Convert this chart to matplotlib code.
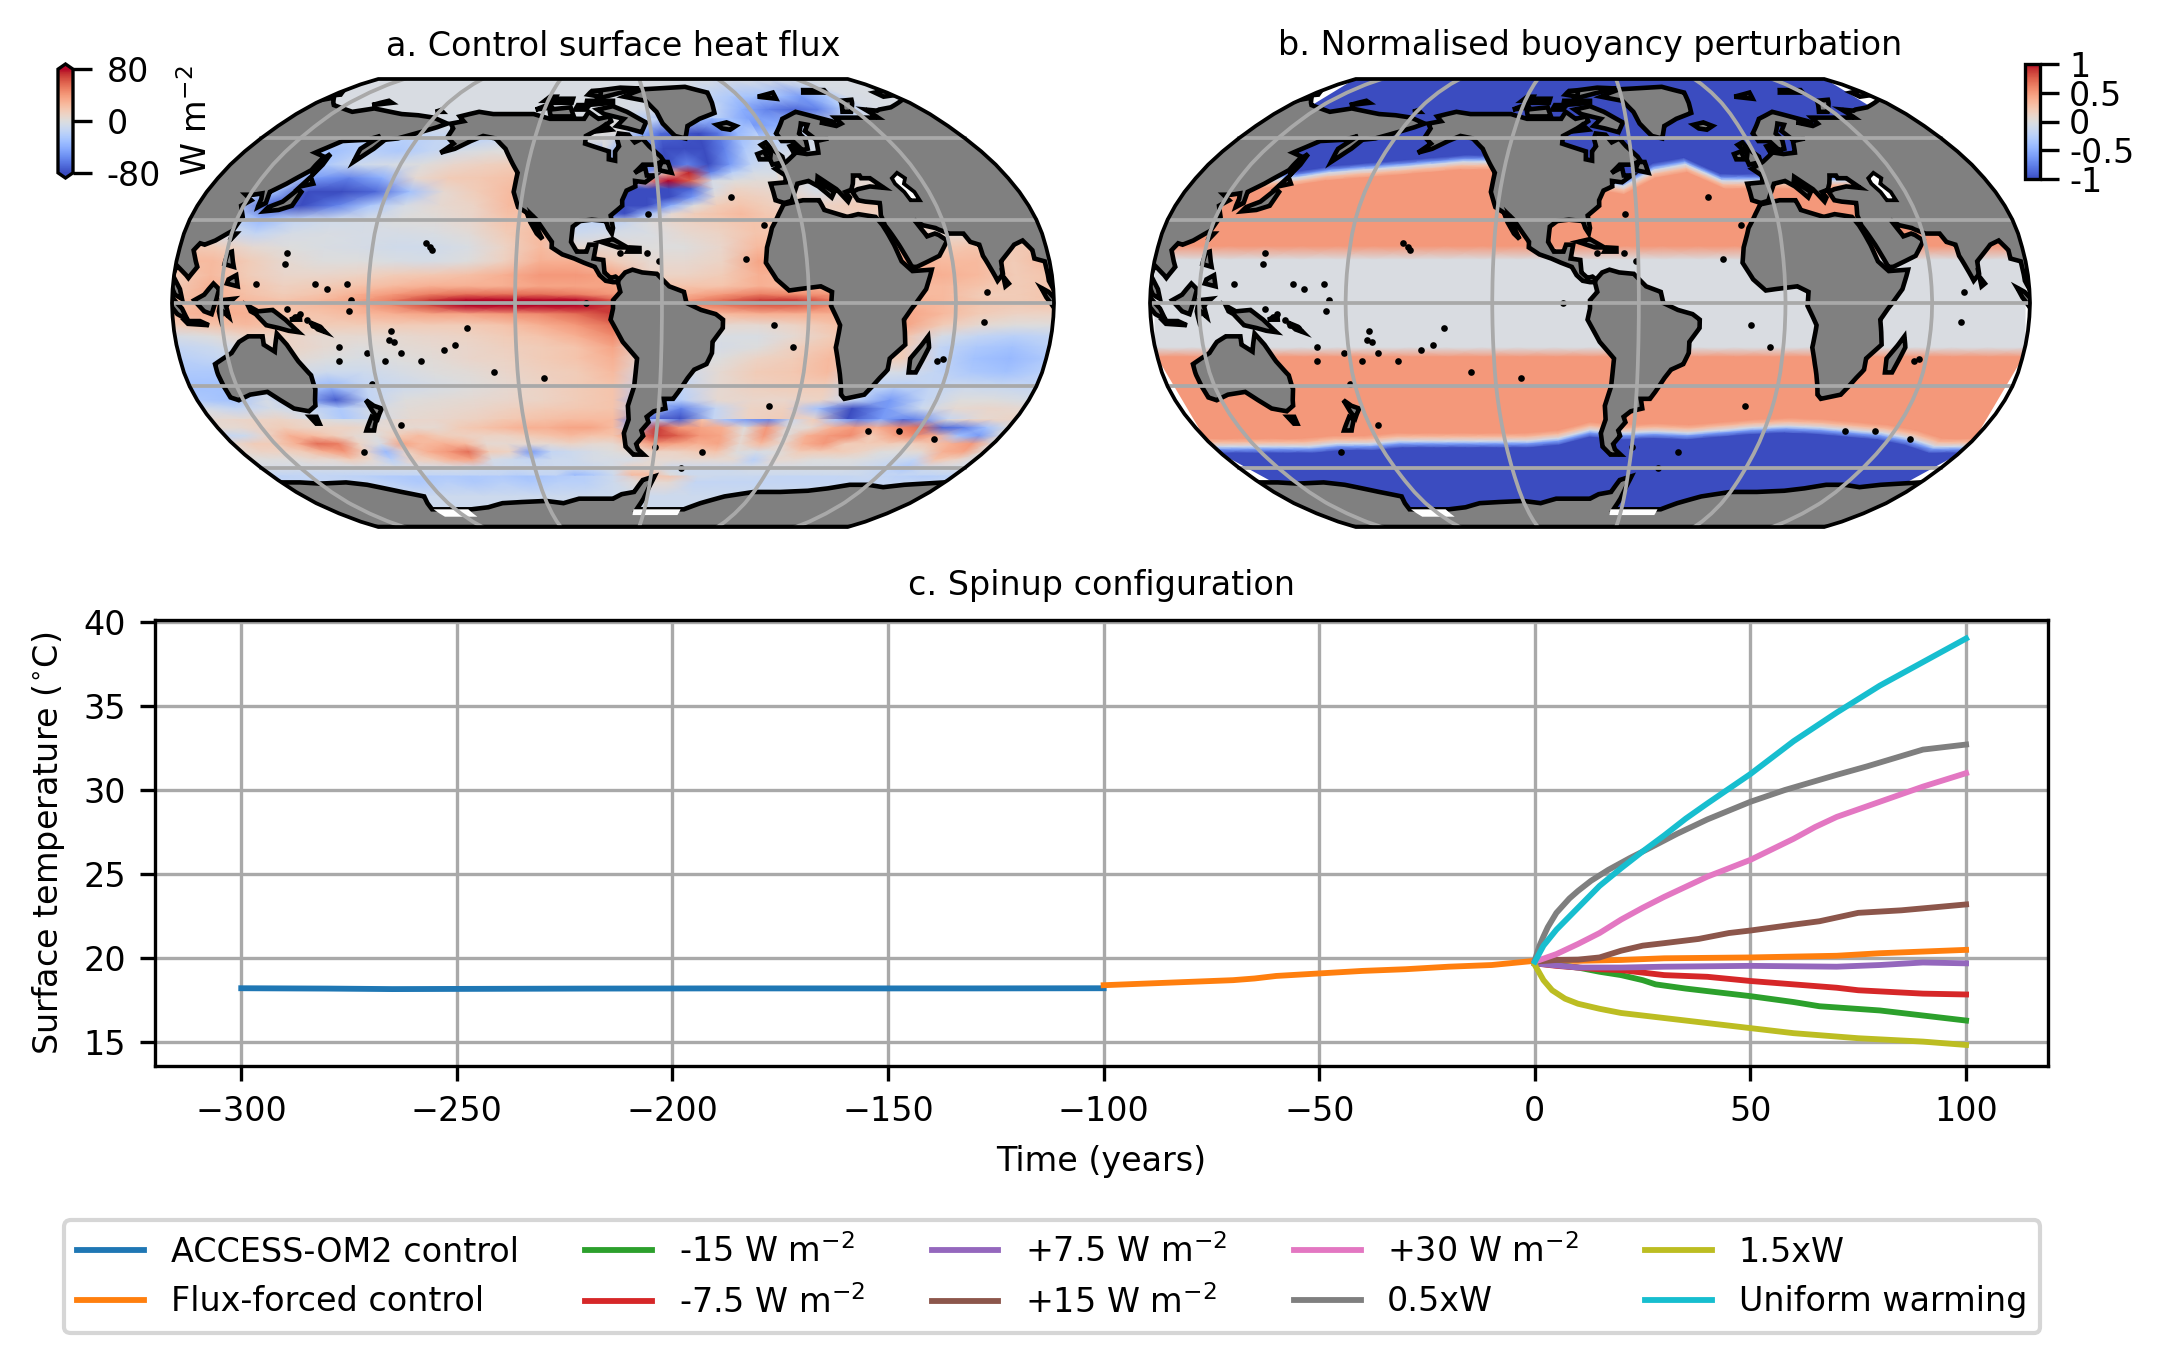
import numpy as np
import matplotlib
matplotlib.use('Agg')
import matplotlib.pyplot as plt
from matplotlib.cm import ScalarMappable
from matplotlib.colors import Normalize
from matplotlib.patches import Polygon

# Robinson table
rob_lat = [0, 5, 10, 15, 20, 25, 30, 35, 40, 45, 50, 55, 60, 65, 70, 75, 80, 85, 90]
rob_plen = [1, .9986, .9954, .99, .9822, .973, .96, .9427, .9216, .8962, .8679, .835, .7986, .7597, .7186, .6732, .6213, .5722, .5322]
rob_pdfe = [0, .062, .124, .186, .248, .31, .372, .434, .4958, .5571, .6176, .6769, .7346, .7903, .8435, .8936, .9394, .9761, 1]
central_lon = -80

# Panel a, heat flux (W m-2)
heat_lons = [-260, -245, -230, -215, -200, -185, -170, -155, -140, -125, -110, -95, -80,
             -65, -50, -35, -20, -5, 10, 25, 40, 55, 70, 85, 100]
heat_lats = [90, 78, 72, 65, 60, 55, 50, 45, 40, 35, 30, 25, 20, 15, 10, 6, 3, 1, -1, -4, -8,
             -12, -16, -20, -25, -30, -35, -38, -42, -46, -50, -54, -58, -62, -66, -72, -90]
heat_flux = [
    [-3, -3, -3, -3, -3, -3, -3, -3, -3, -3, -3, -3, -3, -3, -3, -3, -3, -3, -3, -3, -3, -3, -3, -3, -3],
    [-3, -3, -3, -3, -3, -3, -3, -3, -3, -3, -3, -3, -3, -3, -3, -5, -15, -25, -30, -30, -50, -30, -5, -3, -3],
    [-3, -3, -3, -3, -3, -3, -3, -3, -3, -3, -3, -3, -3, -5, -5, -10, -15, -40, -60, -70, -60, -20, -5, -3, -3],
    [-3, -3, -3, -3, -3, -5, -5, -3, -3, -3, -3, -3, -3, -30, -40, -40, -30, -50, -40, -10, -3, -3, -3, -3, -3],
    [0, 0, 0, -20, -20, -20, -15, -20, -15, 0, 0, 0, 0, -60, -80, -60, -20, -25, -15, -5, 0, 0, 0, 0, 0],
    [0, 0, -30, -30, -20, -25, -15, -5, 0, 0, 0, 0, -40, -40, -80, -50, -10, -15, -5, -5, 0, 0, 0, 0, 0],
    [0, 0, -25, -25, -10, -5, 0, 8, 12, 15, 15, -20, -30, -30, 10, -25, -5, 0, 0, 0, 0, 0, 0, 0, 0],
    [0, -10, -10, -50, -60, -40, 5, 15, 18, 22, 22, -30, -60, -60, 60, -10, 10, 5, -5, 5, 5, 0, 0, 0, 0],
    [0, -10, -30, -80, -85, -70, -30, 5, 15, 25, 25, -30, -30, -80, -50, 12, 20, 10, -5, 5, 5, 0, 0, 0, 0],
    [0, -15, -70, -85, -60, -25, -5, 5, 10, 25, 25, -60, -60, -30, 10, 25, 20, 15, 10, 15, 15, 0, 0, 0, 0],
    [0, -10, -35, -15, -8, -5, 0, 2, 8, 20, 15, -15, -20, 0, 10, 15, 20, 10, 10, 10, 10, 10, 0, 0, 0],
    [10, -5, -15, -5, -3, -5, -5, -3, 3, 15, 25, -10, -5, -3, 5, 10, 20, 20, 20, 20, 20, 5, 5, 10, 10],
    [20, 15, 5, 0, -3, -5, -8, -8, -3, 10, 25, 5, 5, 0, 0, 8, 25, 25, 25, 25, 25, 15, 20, 15, 20],
    [25, 25, 15, 5, 0, 0, -3, -5, 0, 12, 30, 30, 15, 5, 5, 10, 35, 35, 35, 35, 35, 25, 25, 15, 25],
    [15, 25, 15, 8, 8, 10, 15, 18, 22, 30, 40, 40, 35, 10, 10, 15, 30, 25, 25, 30, 30, 30, 25, 15, 20],
    [15, 30, 20, 12, 15, 20, 25, 30, 30, 30, 35, 35, 35, 20, 20, 20, 30, 25, 25, 25, 25, 25, 20, 15, 20],
    [18, 30, 22, 15, 20, 30, 40, 50, 55, 55, 55, 50, 40, 30, 30, 40, 50, 45, 40, 30, 25, 25, 15, 15, 20],
    [20, 30, 25, 20, 25, 35, 50, 70, 80, 90, 100, 90, 60, 45, 40, 55, 70, 70, 50, 30, 30, 25, 18, 15, 20],
    [20, 30, 28, 20, 25, 30, 45, 65, 85, 105, 115, 110, 70, 40, 40, 50, 60, 60, 45, 30, 30, 25, 18, 15, 18],
    [25, 30, 30, 20, 20, 25, 30, 35, 35, 40, 45, 55, 70, 30, 25, 25, 30, 30, 30, 35, 35, 25, 15, 10, 10],
    [15, 20, 25, 20, 15, 15, 15, 15, 15, 20, 30, 40, 55, 5, 5, 5, 5, 10, 20, 35, 35, 15, 5, 0, 0],
    [-5, 0, 10, 10, 5, 5, 5, 8, 10, 15, 20, 30, 45, -3, -3, -3, -3, 5, 15, 20, 20, -5, -15, -20, -15],
    [-15, -10, 0, 10, 5, 0, 3, 5, 8, 12, 15, 20, 35, -5, -5, -5, 0, 12, 20, 15, 15, -15, -25, -30, -20],
    [-20, -15, -5, 5, 0, -3, 0, 3, 8, 10, 15, 20, 30, 0, 0, 0, 10, 15, 25, 15, 15, -15, -30, -35, -25],
    [-25, -25, -10, -5, -10, -10, -5, 0, 3, 8, 12, 15, 25, -10, -10, 5, 15, 18, 25, -5, -5, -15, -25, -30, -20],
    [-30, -30, -15, -20, -35, -15, -10, -5, 0, 5, 10, 15, 20, -20, -15, 5, 12, 15, 15, -15, -20, -15, -10, -12, -15],
    [-25, -30, -5, -30, -75, -15, 0, 3, 5, 8, 10, 15, 20, -40, -20, 5, 8, 8, 10, -15, -50, -15, 0, 0, -5],
    [-5, -15, -5, -10, -25, -5, 3, 5, 8, 12, 15, 18, 20, -20, -60, -15, 10, 12, -30, -80, -50, -10, 5, 8, 5],
    [5, 5, 10, -5, -25, -5, 5, 8, 12, 18, 22, 25, 25, -70, -80, -15, 10, 15, 10, -80, -50, -60, -15, 5, 10],
    [10, 15, 15, 20, 10, 5, 8, 10, 12, 20, 25, 30, 30, -60, -20, 30, 40, 25, 35, 15, 10, -30, -60, -60, -20],
    [15, 25, 30, 30, 25, 15, 12, 10, 10, 15, 20, 25, 25, 70, 60, 40, 45, 50, 55, 50, 30, 30, 20, 0, -40],
    [20, 30, 35, 45, 45, 35, 30, 25, 20, 15, -5, 5, 10, 40, 20, 25, 30, 45, 50, 40, 40, 55, 40, 35, 0],
    [-10, 10, 30, 40, 35, 20, -5, -15, 15, 30, -30, -25, -15, 10, 30, -5, 10, -10, 10, -10, 0, 15, 20, 10, -10],
    [-20, -15, -15, -20, -25, -25, -25, -25, -25, -30, -25, -20, -10, 25, 25, -5, -10, -10, -15, -15, -15, -10, -20, -25, -20],
    [-15, -15, -15, -15, -20, -25, -20, -25, -20, -25, -20, -20, -10, 5, 5, -15, -15, -15, -15, -15, -15, -15, -15, -15, -15],
    [-10, -10, -10, -10, -10, -10, -10, -10, -10, -10, -10, -10, -10, -10, -10, -10, -10, -10, -10, -10, -10, -10, -10, -10, -10],
    [-10, -10, -10, -10, -10, -10, -10, -10, -10, -10, -10, -10, -10, -10, -10, -10, -10, -10, -10, -10, -10, -10, -10, -10, -10],
]

# Finer read of the Southern Ocean streaks
south_lons = list(range(-260, 101, 10))
south_lats = [-42, -45, -48, -51, -54, -57, -60, -63]
south_flux = [
    [5, 8, 10, 10, 8, 0, -5, -5, 5, 8, 8, 10, 12, 18, 20, 22, 25, 25, 25, -60, -20, -70, 20, -30, -50, -60, -10, 15, -30, -60, -40, -70, -50, 0, 10, 10, 8],
    [5, 5, 10, 15, 10, 10, 10, 5, 5, 5, 5, 15, 20, 25, 30, 30, 35, 35, 25, -30, 70, 40, 35, 30, 0, 40, 0, 5, 30, 40, 30, 45, 55, -70, -60, -30, 0],
    [-15, -10, 10, 30, 25, 15, 5, 0, 15, 25, 15, 12, 10, 10, 15, 20, 25, 20, 20, 40, 70, 60, 40, 35, 5, 40, 0, 30, 40, 45, 15, 35, 45, 30, -30, -50, 0],
    [5, 15, 15, 30, 55, 50, 10, -5, 35, 25, 30, 25, 5, 5, 5, 5, 10, 5, 5, 20, 40, 35, 30, 35, 5, 25, 5, 30, 40, 15, 15, 15, 10, 20, 30, 40, 0],
    [5, 10, 10, 15, 30, 40, 10, -35, 10, 30, 40, 55, 15, 10, -50, -15, -10, -5, 0, 5, 10, 10, 15, 20, 0, -5, 0, 15, 15, 15, 10, 0, 0, 5, 30, 35, 0],
    [0, 0, 0, 5, 5, 15, 5, -20, 10, 15, 30, 35, -5, -10, -15, -10, -10, -5, -5, -5, 5, 5, 5, 5, 5, -20, 5, 5, 0, 0, 0, -5, -10, -15, 20, 10, -5],
    [-5, -5, -5, -5, -5, -5, -5, -5, -5, -5, -5, -10, -10, -10, -10, -10, -10, -10, -5, 10, 5, -10, -10, -10, -10, -5, -5, -5, -5, -5, -5, -10, -15, -25, -10, -5, -5],
    [-15, -15, -15, -15, -15, -15, -15, -15, -15, -15, -15, -15, -15, -20, -15, -15, -35, -25, -10, 25, 25, 0, -10, -10, -10, -10, -10, -10, -10, -10, -10, -10, -15, -15, -15, -15, -15],
]

# Finer read of the North Atlantic
atl_lons = [-85, -75, -65, -55, -45, -35, -25, -15, -5]
atl_lats = [68, 62, 56, 50, 47, 44, 41, 38, 35, 32, 29]
atl_flux = [
    [0, 0, -10, -15, -15, -30, -40, -30, -45],
    [0, 0, -40, -70, -75, -80, -65, -35, -20],
    [0, -40, -60, -85, -85, -85, -60, -25, -10],
    [-40, -40, -60, -85, -60, -80, -50, -15, -5],
    [-40, -40, -50, 20, 75, -60, -20, -5, -5],
    [-40, -50, 30, 85, 60, -5, 0, 3, 3],
    [-40, -80, -80, -80, -70, -5, 10, 8, 5],
    [-60, -80, -80, -85, -50, 5, 15, 12, 8],
    [-80, -85, -85, -40, 0, 15, 20, 15, 10],
    [-60, -80, -30, 5, 15, 20, 25, 18, 15],
    [-15, -10, 0, 8, 12, 15, 20, 20, 15],
]

# Panel b, where the buoyancy perturbation flips sign at each longitude
north_edge = [44, 44, 44, 45, 47, 48, 49, 50, 51, 51, 51, 51, 44, 42, 48, 50, 44, 44, 44, 44, 44, 44, 44, 44, 44]
south_edge = [-52, -52, -52, -52, -51, -51, -50, -50, -50, -50, -50, -49, -46, -47, -46.5, -47, -46, -45, -44.5, -45, -46, -47, -49, -52, -52]

# Land outlines (lon, lat)
north_america = [(-168,66),(-162,67),(-166,69),(-157,71),(-148,70),(-140,70),(-130,70),(-125,70),(-115,68),(-108,68),(-96,68),(-94,71),(-88,68),(-82,69),(-81,67),(-87,64),(-94,61),(-94,58),(-88,56.5),(-82,55),(-82,52),(-79,51.5),(-79,55),(-77,57),(-78,60),(-77,62),(-72,61.5),(-69,58.5),(-65,60),(-62,57),(-57,53),(-56,51.5),(-60,50),(-66,50),(-70,47),(-65,49),(-64.5,46),(-61,46),(-65.5,43.5),(-70,44),(-70,42),(-74,40.5),(-76,37),(-76,35),(-81,31.5),(-80,27),(-80.5,25),(-82,27),(-83,29.5),(-89,30),(-94,29.5),(-97,27.5),(-97.5,22),(-95,18.5),(-91,18.5),(-90,21),(-87,21),(-88,16),(-84,15.5),(-83.5,11),(-81,9),(-79,9.5),(-77.5,8.5),(-78,7.5),(-80,7.5),(-83,8),(-85.5,10),(-87.5,13),(-92,14.5),(-96,16),(-101,17.5),(-105.5,20),(-105.5,22),(-109,26),(-112.5,30),(-114.5,31.5),(-112,27),(-109.5,23),(-112,25),(-115,29),(-117,32.5),(-121,34.5),(-124,40),(-124,47),(-128,51),(-133,56),(-140,60),(-147,61),(-152,59),(-158,56),(-164,54.5),(-160,58),(-165,60.5),(-165,64)]
south_america = [(-77.5,8.5),(-75,11),(-72,12),(-68,11),(-62,10.5),(-57,6),(-51,4),(-50,0),(-44,-2.5),(-38,-4),(-35,-6),(-35,-9),(-39,-14),(-39,-18),(-41,-22),(-46,-24),(-48.5,-27),(-52,-32),(-54,-34.5),(-58,-34.5),(-57,-38),(-62,-39),(-65,-41),(-64,-43),(-67,-46),(-66,-48),(-69,-51),(-68,-53),(-65,-55),(-70,-55),(-74,-52),(-75,-47),(-73,-42),(-73.5,-37),(-71,-30),(-70,-20),(-76,-14),(-81,-6),(-80,-2),(-80,1),(-77,4),(-78,7.5)]
africa = [(-6,35.5),(3,37),(10,37),(11,33.5),(20,31),(25,32),(32,31),(34,28),(37,21),(39,15),(43,11.5),(51,12),(48,5),(42,-2),(39,-6),(40.5,-15),(35,-20),(35,-24),(32.5,-27),(28,-33),(20,-34.5),(18,-33),(14,-22),(12,-16),(13,-8),(9,-1),(9.5,4),(5,6),(-4,5),(-8,4.5),(-13,8.5),(-17,14.5),(-16,20),(-13,27),(-9,32)]
eurasia = [(-9,37),(-9,43),(-2,43.5),(-1,46),(-4.5,48.5),(2,51),(8,54),(8,57),(10.5,57.5),(10,54.5),(14,54),(20,54.5),(23,59),(30,60),(23,60),(21,63),(25,65.5),(22,66),(17,62),(18,59.5),(16,56),(13,55.5),(11,59),(5.5,59),(5,62),(14,68),(25,71),(40,67),(41,66),(33,66.5),(40,65),(44,66),(44,68.5),(54,68.5),(68,68.5),(67,72),(73,71.5),(75,72),(84,73),(104,77.5),(113,74),(130,71),(140,72.5),(160,70),(170,69.5),(180,68.5),(190,66),(186,64.5),(179,62.5),(170,60),(164,59.5),(162,56),(157,51),(155.5,56),(160,61),(155,59.5),(143,59),(135,54.5),(141,53),(140,48),(133,43),(128,40),(129,36),(126.5,34.5),(126,37.5),(125,39.5),(121.5,39),(118,39),(122,37),(119,35),(122,31),(120,26),(114,22.5),(110,21),(108,21.5),(106,19),(109,13),(106,9),(105,10),(100.5,13.5),(99.5,10),(103,5),(104,1.5),(101,3),(98.5,8),(98,15),(94,16),(94,19),(91,22.5),(87,21),(80,15),(80,10.5),(77.5,8),(73,17),(72.5,21),(69,22),(67,25),(61,25),(57,26.5),(56,27),(51,28),(48,30),(50,26.5),(51.5,24),(55,25),(56.5,24.5),(59.5,22.5),(55,17),(45,13),(43,13),(39,21),(35,28),(34.5,31.5),(36,36),(30,36.5),(27,37),(26,40),(29,41),(35,42),(41,41.5),(37,45),(33,45),(33,46),(30,46),(28,43),(26,40.8),(23,40),(24,38),(22.5,36.5),(19.5,41),(13.5,45.5),(12.5,44),(18,40),(16,38),(12,42),(8.5,44),(3,43),(0,39.5),(-2,36.8),(-5.5,36)]
greenland = [(-73,78),(-60,82),(-30,83.5),(-18,80),(-20,75),(-22,70.5),(-32,68),(-40,65),(-43,60),(-48,61),(-53,66),(-55,71),(-60,76)]
baffin = [(-80,73.5),(-72,71),(-62,66.5),(-65,62.5),(-72,64),(-78,65),(-74,68),(-85,70),(-89,72)]
victoria = [(-117,72),(-105,73),(-102,69),(-115,69)]
ellesmere = [(-90,77),(-62,82.5),(-75,83),(-92,81)]
banks = [(-125,72),(-118,74.5),(-116,73)]
devon = [(-96,74),(-80,75),(-80,76),(-96,76)]
melville = [(-118,75),(-105,75),(-105,77),(-118,77)]
prince_wales = [(-102,72),(-96,72),(-94,74),(-101,74)]
axel = [(-96,79),(-88,78),(-88,81),(-94,81)]
prince_patrick = [(-122,76),(-116,76),(-116,78),(-120,78)]
southampton = [(-87,63),(-81,63.5),(-84,65.5)]
franz_josef = [(45,80),(60,80),(62,81.5),(48,81.5)]
severnaya = [(92,78),(104,79),(100,81),(92,80)]
new_siberia = [(136,74),(146,75),(142,76)]
wrangel = [(178,71),(182,71),(180,71.8)]
iceland = [(-24,65.5),(-18,66.5),(-14,65),(-18,63.5),(-22,64)]
britain = [(-5,50),(1,51),(1.5,53),(-2,56),(-3,58.5),(-6,57.5),(-3.5,54),(-5,52)]
ireland = [(-10,52),(-6,52),(-6,55),(-10,54)]
svalbard = [(12,78),(25,80),(22,77)]
novaya = [(52,71),(57,71),(68,76.5),(60,76)]
newfoundland = [(-59,48),(-53,47),(-54,51),(-57,51)]
cuba = [(-85,22),(-80,23),(-74,20),(-78,20)]
hispaniola = [(-74,18.5),(-69,18.5),(-69,19.8),(-73,20)]
honshu = [(130,33),(136,33.5),(141,35),(142,40),(140,41),(136,36.5),(131,34.5)]
hokkaido = [(140,42),(145,43),(142,45.5)]
sakhalin = [(142,46),(143.5,50),(143,54),(142,53)]
taiwan = [(120,22.5),(122,25),(120.5,25)]
luzon = [(120,14),(124,13),(122,18.5),(120.5,18)]
mindanao = [(122,7),(126.5,6),(125.5,10),(122.5,8.5)]
borneo = [(109,1),(113,-3),(116,-4),(118,1),(119,5),(116.5,7),(113,3)]
sumatra = [(95,5.5),(98,4),(104,-2),(106,-6),(102,-4),(97,2)]
java = [(105,-6.5),(111,-6.5),(114.5,-8),(106,-7.5)]
sulawesi = [(119.5,-5.5),(120.5,-3),(123,-5),(122,-1),(125,1.5),(120,1),(119,-3)]
new_guinea = [(131,-1),(135,-3),(141,-2.5),(146,-6),(151,-10.5),(147,-10),(143,-9),(138,-8),(134,-4),(132,-3)]
new_britain = [(148,-6),(152,-4.5),(152,-6)]
solomons = [(156,-7),(160,-8.5),(162,-10.5),(159,-9.5)]
australia = [(114,-22),(122,-18),(126,-14),(130,-12),(136,-12),(136,-15),(140,-17.5),(142,-11),(145.5,-15),(149,-21),(153,-26),(153,-31),(150,-37),(146,-39),(140,-38),(136,-35),(132,-32),(124,-33),(118,-35),(115,-34),(114,-26)]
tasmania = [(145,-41),(148,-41),(147.5,-43.5),(146,-43.5)]
nz_north = [(173,-35),(175.5,-37),(178.5,-38),(175,-41.5),(174,-39)]
nz_south = [(172.5,-41),(174,-42),(170.5,-46),(167,-46)]
madagascar = [(49.5,-12),(50.5,-16),(47,-25),(44,-25),(43.5,-20),(47,-15.5)]
sri_lanka = [(80,9.5),(82,7),(80.5,6)]
land = [north_america, south_america, africa, eurasia, greenland, baffin, victoria, ellesmere, banks,
        devon, melville, prince_wales, axel, prince_patrick, southampton, franz_josef, severnaya,
        new_siberia, wrangel, iceland, britain, ireland, svalbard, novaya, newfoundland, cuba, hispaniola,
        honshu, hokkaido, sakhalin, taiwan, luzon, mindanao, borneo, sumatra, java, sulawesi, new_guinea,
        new_britain, solomons, australia, tasmania, nz_north, nz_south, madagascar, sri_lanka]
antarctic_coast = [(-180,-78),(-170,-78),(-158,-77),(-147,-75),(-135,-74.5),(-120,-74),(-110,-75),(-100,-73),(-90,-73),(-80,-73),(-75,-71),(-68,-70),(-64,-65),(-58,-63.5),(-60,-68),(-62,-73),(-65,-78),(-45,-78),(-35,-78),(-27,-75),(-15,-72),(0,-70),(15,-70),(30,-69.5),(40,-68.5),(50,-67),(60,-67),(70,-68),(80,-67),(90,-66.5),(100,-66),(110,-66),(120,-66.5),(135,-66),(145,-67),(155,-69),(165,-71),(170,-72),(165,-78)]
ice_shelves = [[(-194,-78),(-172,-78),(-172,-82),(-194,-82)], [(-67,-78),(-37,-78),(-37,-81),(-67,-81)]]
caspian = [(47,45),(51,47),(53,45),(51,43),(53.5,40),(54,37),(50,37),(49,40),(47,43)]
island_lons = [-156,-158,-170,-172,178,167,166,160,157,155,150,147,152,134,145,145,158,163,171,173,-150,-140,-175,-160,-130,-109,73,55,57,-25,-16,-28,-65,-5.7,-14,-12,70,51,37,-37,-60,-91,-45,-77,-66,-61,159,178,-176,72,-171,-155,-168,172,-145]
island_lats = [20,21.5,-14,-13.5,-18,-16,-21,-9,-8,-6,-5,-2,-4,7,14,18,7,5,7,1,-17,-9,-21,-21,-25,-27,4,-21,-20,16,28,38,32,-16,-8,-37,-49,-46,-46,-54,-52,0,-60,18,18,15,-54,-29,-44,-7,-10,19,-18,-3,-15]

# Panel c series
years_blue = [-300, -280, -265, -250, -220, -190, -160, -130, -100]
access_control = [18.22, 18.2, 18.17, 18.18, 18.2, 18.21, 18.21, 18.21, 18.22]
years_spinup = [-100, -90, -80, -70, -65, -60, -50, -40, -30, -20, -10, 0]
flux_spinup = [18.4, 18.5, 18.6, 18.7, 18.8, 18.95, 19.1, 19.25, 19.35, 19.5, 19.6, 19.85]
years_flux = [0, 10, 20, 30, 50, 70, 80, 90, 100]
flux_control = [19.85, 19.85, 19.9, 20.0, 20.05, 20.15, 20.3, 20.4, 20.5]
years_m15 = [0, 5, 10, 15, 20, 25, 28, 35, 45, 50, 60, 66, 80, 90, 100]
m15 = [19.7, 19.6, 19.45, 19.2, 19.0, 18.7, 18.45, 18.2, 17.9, 17.75, 17.4, 17.15, 16.9, 16.6, 16.3]
years_m7 = [0, 5, 10, 15, 20, 25, 30, 40, 50, 60, 70, 75, 90, 100]
m7 = [19.7, 19.55, 19.45, 19.35, 19.3, 19.15, 19.0, 18.9, 18.65, 18.45, 18.25, 18.1, 17.9, 17.85]
years_p7 = [0, 10, 20, 30, 50, 70, 80, 90, 100]
p7 = [19.7, 19.45, 19.45, 19.5, 19.55, 19.5, 19.6, 19.75, 19.7]
years_p15 = [0, 5, 10, 15, 20, 25, 30, 38, 45, 50, 60, 66, 75, 85, 100]
p15 = [19.8, 19.9, 19.92, 20.05, 20.45, 20.75, 20.9, 21.15, 21.5, 21.65, 22.0, 22.2, 22.7, 22.85, 23.2]
years_p30 = [0, 5, 10, 15, 20, 25, 30, 40, 50, 60, 65, 70, 80, 90, 100]
p30 = [19.8, 20.25, 20.85, 21.5, 22.3, 23.0, 23.65, 24.85, 25.85, 27.1, 27.8, 28.4, 29.3, 30.2, 31.0]
years_half = [0, 1, 2, 3, 5, 8, 10, 13, 17, 22, 27, 33, 40, 50, 58, 70, 77, 90, 100]
half_wind = [19.9, 20.7, 21.3, 21.85, 22.7, 23.55, 24.0, 24.6, 25.25, 25.95, 26.6, 27.4, 28.25, 29.3, 30.0, 30.9, 31.4, 32.4, 32.7]
years_15x = [0, 1, 2, 4, 7, 10, 15, 20, 30, 40, 50, 60, 75, 90, 100]
x15_wind = [19.6, 19.15, 18.7, 18.1, 17.6, 17.3, 17.0, 16.75, 16.45, 16.15, 15.85, 15.55, 15.25, 15.05, 14.85]
years_uni = [0, 2, 5, 10, 15, 20, 25, 30, 35, 40, 50, 60, 70, 80, 90, 100]
uniform = [19.8, 20.75, 21.7, 23.0, 24.3, 25.35, 26.35, 27.3, 28.3, 29.2, 30.95, 32.9, 34.6, 36.2, 37.6, 39.0]


def project(lon, lat):
    lon = np.asarray(lon, dtype=float)
    lat = np.asarray(lat, dtype=float)
    a = np.abs(lat).ravel()
    plen = np.interp(a, rob_lat, rob_plen).reshape(lat.shape)
    pdfe = np.interp(a, rob_lat, rob_pdfe).reshape(lat.shape)
    return plen * (lon - central_lon) / 180.0, np.sign(lat) * pdfe


def densify(pts, n=6):
    pts = np.array(list(pts) + [pts[0]], dtype=float)
    t = np.arange(len(pts))
    tt = np.linspace(0, len(pts) - 1, (len(pts) - 1) * n + 1)
    return np.interp(tt, t, pts[:, 0]), np.interp(tt, t, pts[:, 1])


def draw_map(ax, fields, norm):
    ax.set_xlim(-1.0, 1.0)
    ax.set_ylim(-1.0, 1.0)
    ax.axis('off')
    edge_lat = np.linspace(-90, 90, 181)
    xr, yr = project(np.full(181, central_lon + 180.0), edge_lat)
    frame = Polygon(np.r_[np.c_[xr, yr], np.c_[-xr[::-1], yr[::-1]]], closed=True, fc='none', ec='k', lw=0.9, zorder=10)
    frame.set_clip_on(False)
    ax.add_patch(frame)

    for lons2d, lats2d, values in fields:
        x, y = project(lons2d, lats2d)
        mesh = ax.pcolormesh(x, y, values, shading='gouraud', cmap='coolwarm', norm=norm, zorder=1)
        mesh.set_clip_path(frame)

    for poly in land:
        lo, la = densify(poly)
        for shift in (-360, 0, 360):
            px, py = project(lo + shift, la)
            p, = ax.fill(px, py, fc='grey', ec='k', lw=1.1, zorder=2)
            p.set_clip_path(frame)
    # Antarctica runs off both sides of the map, so repeat its coast
    ant = np.array(antarctic_coast, dtype=float)
    lo = np.r_[ant[:, 0] - 360, ant[:, 0], ant[:, 0] + 360]
    la = np.r_[ant[:, 1], ant[:, 1], ant[:, 1]]
    lo, la = densify(list(zip(lo, la)) + [(lo[-1], -90), (lo[0], -90)])
    px, py = project(lo, la)
    p, = ax.fill(px, py, fc='grey', ec='k', lw=1.1, zorder=2)
    p.set_clip_path(frame)
    for poly in ice_shelves:
        lo, la = densify(poly)
        px, py = project(lo, la)
        p, = ax.fill(px, py, fc='white', ec='none', zorder=2.5)
        p.set_clip_path(frame)
    lo, la = densify(caspian)
    px, py = project(lo, la)
    ax.fill(px, py, fc='white', ec='k', lw=0.9, zorder=2.5)

    il = np.array(island_lons, dtype=float)
    il = np.where(il > 100, il - 360, il)
    px, py = project(il, np.array(island_lats, dtype=float))
    ax.plot(px, py, 'o', color='k', ms=1.6, mew=0, zorder=3)

    for la0 in [-60, -30, 0, 30, 60]:
        lo = np.linspace(-260, 100, 200)
        px, py = project(lo, np.full(200, float(la0)))
        ax.plot(px, py, color='darkgrey', lw=0.9, zorder=4)
    for lo0 in [-240, -180, -120, -60, 0, 60]:
        la = np.linspace(-90, 90, 200)
        px, py = project(np.full(200, float(lo0)), la)
        ax.plot(px, py, color='darkgrey', lw=0.9, zorder=4)


W, H = 2165.0, 1363.0
fig = plt.figure(figsize=(W / 300, H / 300), dpi=300)
plt.rcParams['font.size'] = 8


def axes_px(x0, y0, x1, y1):
    return fig.add_axes([x0 / W, 1 - y1 / H, (x1 - x0) / W, (y1 - y0) / H])


# Panel a
ax_a = axes_px(172, 79, 1054, 527)
lon_a, lat_a = np.meshgrid(heat_lons, heat_lats)
lon_s, lat_s = np.meshgrid(south_lons, south_lats)
lon_n, lat_n = np.meshgrid(atl_lons, atl_lats)
fields_a = [(lon_a, lat_a, np.array(heat_flux, dtype=float)),
            (lon_s, lat_s, np.array(south_flux, dtype=float)),
            (lon_n, lat_n, np.array(atl_flux, dtype=float))]
draw_map(ax_a, fields_a, Normalize(-80, 80))
fig.text(613 / W, 1 - 47 / H, 'a. Control surface heat flux', ha='center', va='center', fontsize=8)

# Panel b
nodes_north = [2.5, 1, 0, -1.5, -3]
vals_north = [-1, -0.6, -0.1, 0.3, 0.5]
nodes_south = [3, 1.5, 0, -1, -2.5]
vals_south = [0.5, 0.3, -0.1, -0.6, -1]
lat_rows = [np.full(25, 90.0)] + [np.array(north_edge) + d for d in nodes_north]
lat_rows += [np.full(25, 20.5), np.full(25, 15.5), np.full(25, -16.0), np.full(25, -19.5)]
lat_rows += [np.array(south_edge) + d for d in nodes_south] + [np.full(25, -90.0)]
val_rows = [-1] + vals_north + [0.5, -0.03, -0.03, 0.5] + vals_south + [-1]
lat_b = np.array(lat_rows, dtype=float)
lon_b = np.tile(np.array(heat_lons, dtype=float), (lat_b.shape[0], 1))
field_b = np.tile(np.array(val_rows, dtype=float)[:, None], (1, 25))
ax_b = axes_px(1150, 79, 2030, 527)
draw_map(ax_b, [(lon_b, lat_b, field_b)], Normalize(-1, 1))
fig.text(1590 / W, 1 - 45 / H, 'b. Normalised buoyancy perturbation', ha='center', va='center', fontsize=8)

# Colour bars
cax_a = axes_px(58, 64, 73, 178)
cb_a = fig.colorbar(ScalarMappable(Normalize(-80, 80), 'coolwarm'), cax=cax_a, extend='both', extendfrac=0.05)
cb_a.set_ticks([-80, 0, 80], labels=['-80', '0', '80'])
cb_a.ax.tick_params(length=4.5, width=0.8, pad=3.5, labelsize=8)
cb_a.outline.set_linewidth(0.8)
fig.text(197 / W, 1 - 121 / H, 'W m$^{-2}$', rotation=90, ha='center', va='center', fontsize=8)

cax_b = axes_px(2025, 64, 2040, 179)
cb_b = fig.colorbar(ScalarMappable(Normalize(-1, 1), 'coolwarm'), cax=cax_b)
cb_b.set_ticks([-1, -0.5, 0, 0.5, 1], labels=['-1', '-0.5', '0', '0.5', '1'])
cb_b.ax.tick_params(length=4.5, width=0.8, pad=2.5, labelsize=8)
cb_b.outline.set_linewidth(0.8)

# Panel c
ax_c = axes_px(155, 620, 2048, 1066)
ax_c.plot(years_blue, access_control, lw=1.4, label='ACCESS-OM2 control')
ax_c.plot(years_spinup + years_flux[1:], flux_spinup + flux_control[1:], lw=1.4, label='Flux-forced control')
ax_c.plot(years_m15, m15, lw=1.4, label='-15 W m$^{-2}$')
ax_c.plot(years_m7, m7, lw=1.4, label='-7.5 W m$^{-2}$')
ax_c.plot(years_p7, p7, lw=1.4, label='+7.5 W m$^{-2}$')
ax_c.plot(years_p15, p15, lw=1.4, label='+15 W m$^{-2}$')
ax_c.plot(years_p30, p30, lw=1.4, label='+30 W m$^{-2}$')
ax_c.plot(years_half, half_wind, lw=1.4, label='0.5xW')
ax_c.plot(years_15x, x15_wind, lw=1.4, label='1.5xW')
ax_c.plot(years_uni, uniform, lw=1.4, label='Uniform warming')
ax_c.set_xlim(-320, 119)
ax_c.set_ylim(13.6, 40.1)
ax_c.set_xticks(range(-300, 101, 50))
ax_c.set_yticks(range(15, 41, 5))
ax_c.grid(True, color='darkgrey', lw=0.8)
ax_c.set_axisbelow(True)
ax_c.tick_params(labelsize=8)
ax_c.set_xlabel('Time (years)', fontsize=8)
ax_c.set_ylabel('Surface temperature ($^{\\circ}$C)', fontsize=8)
ax_c.set_title('c. Spinup configuration', fontsize=8, pad=6)
ax_c.legend(loc='upper center', bbox_to_anchor=(0.474, -0.309), ncol=5, fontsize=8)

fig.savefig('out.png', dpi=300)
